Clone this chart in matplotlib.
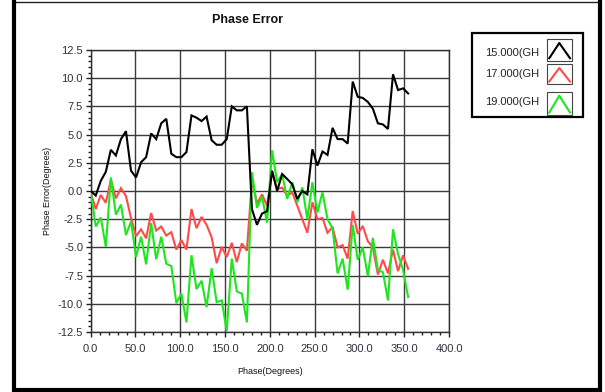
import numpy as np
import matplotlib
matplotlib.use("Agg")
import matplotlib.pyplot as plt
from matplotlib.patches import Rectangle
from matplotlib.lines import Line2D
from matplotlib.ticker import MultipleLocator

plt.rcParams['font.family'] = ['Liberation Sans', 'DejaVu Sans']

# ---- data ----
phase_step = 5.625
n_points = 64
phase_deg = np.arange(n_points) * phase_step

err_15ghz = [0.0, -0.4, 0.9, 1.7, 3.65, 3.15, 4.6, 5.3, 1.8, 1.2,
             2.55, 3.0, 5.1, 4.6, 6.0, 6.4, 3.3, 3.0, 3.0, 3.45,
             6.7, 6.5, 6.2, 6.6, 4.5, 4.1, 4.1, 4.6, 7.5, 7.15,
             7.15, 7.5, -1.6, -3.0, -2.0, -1.8, 1.8, 0.0, 1.5, 1.06,
             0.6, -0.7, 0.0, -0.3, 3.7, 2.25, 3.5, 3.2, 5.6, 4.6,
             4.6, 4.2, 9.7, 8.35, 8.25, 7.9, 7.3, 6.0, 5.9, 5.5,
             10.35, 8.95, 9.1, 8.65]

err_17ghz = [-0.15, -1.6, -0.35, -1.05, 1.0, -0.65, 0.25, -0.45, -2.4, -4.0,
             -3.4, -4.2, -1.95, -3.5, -3.15, -3.95, -3.65, -5.2, -4.35, -5.2,
             -1.6, -3.3, -2.3, -3.0, -4.1, -6.4, -4.95, -5.85, -4.6, -6.3,
             -4.65, -5.3, 1.0, -1.1, -0.3, -1.3, 1.7, 0.17, 0.3, -0.43,
             -0.12, -1.3, -2.5, -3.7, -1.0, -2.5, -2.4, -3.7, -3.2, -5.0,
             -4.8, -6.0, -1.77, -3.8, -3.1, -4.45, -5.0, -7.4, -6.1, -7.3,
             -5.2, -7.1, -5.7, -6.9]

err_19ghz = [0.0, -3.15, -2.35, -4.95, 1.2, -2.1, -1.2, -3.9, -2.7, -5.85,
             -4.05, -6.5, -2.85, -6.05, -4.05, -6.45, -6.65, -9.95, -9.1, -11.65,
             -5.7, -8.7, -7.95, -10.3, -6.85, -9.85, -9.7, -12.4, -6.0, -8.9,
             -9.1, -11.65, 1.66, -1.5, -0.5, -2.8, 3.6, 0.8, 1.5, -0.7,
             0.77, -1.0, 0.32, -2.5, 0.77, -1.9, -0.1, -2.5, -3.3, -7.3,
             -6.0, -8.75, -3.0, -6.1, -5.0, -7.55, -4.15, -7.0, -7.2, -9.7,
             -3.4, -5.6, -7.0, -9.4]

series_labels = ["15.000(GH", "17.000(GH", "19.000(GH"]
series_colors = ["#000000", "#ff4a4a", "#1ee61e"]

x_ticks = np.arange(0, 401, 50)
x_ticklabels = [f"{v:.1f}" for v in x_ticks]
y_ticks = np.arange(-12.5, 12.6, 2.5)
y_ticklabels = [f"{v:.1f}" for v in y_ticks]

# ---- figure ----
W, H = 605, 392
fig = plt.figure(figsize=(W / 100, H / 100), dpi=100)

def fx(x):
    return x / W

def fy(y):
    return 1 - y / H

ax_l, ax_r, ax_t, ax_b = 90.7, 449.0, 50.0, 332.0
ax = fig.add_axes([fx(ax_l), fy(ax_b), (ax_r - ax_l) / W, (ax_b - ax_t) / H])

grid_col = "#3c3c3c"
for xv in x_ticks:
    ax.axvline(xv, color=grid_col, lw=1.0, zorder=1)
for yv in y_ticks:
    ax.axhline(yv, color=grid_col, lw=1.0, zorder=1)

for vals, col, z in zip([err_17ghz, err_19ghz, err_15ghz],
                        [series_colors[1], series_colors[2], series_colors[0]],
                        [3, 4, 5]):
    ax.plot(phase_deg, vals, color=col, lw=1.5, zorder=z, solid_joinstyle='miter')

ax.set_xlim(0, 400)
ax.set_ylim(-12.5, 12.5)
ax.set_xticks(x_ticks)
ax.set_xticklabels(x_ticklabels)
ax.set_yticks(y_ticks)
ax.set_yticklabels(y_ticklabels)
ax.xaxis.set_minor_locator(MultipleLocator(10))
ax.yaxis.set_minor_locator(MultipleLocator(0.5))
tick_col = "#303040"
ax.tick_params(axis='both', which='major', length=3.5, width=1.0, color="#202020",
               labelsize=8, labelcolor=tick_col, pad=2)
ax.tick_params(axis='both', which='minor', length=2.0, width=1.0, color="#202020")
ax.tick_params(axis='x', which='major', pad=5)
for sp in ax.spines.values():
    sp.set_color("#303030")
    sp.set_linewidth(1.0)

# title and axis labels
fig.text(fx(248), fy(20), "Phase Error", ha='center', va='center',
         fontsize=9, fontweight='bold', color='#111111')
fig.text(fx(270), fy(371), "Phase(Degrees)", ha='center', va='center',
         fontsize=6.5, color='#111111')
fig.text(fx(48), fy(191), "Phase Error(Degrees)", ha='center', va='center',
         fontsize=6.5, color='#111111', rotation=90)

# legend (drawn manually to match the instrument-style legend)
leg_l, leg_r, leg_t, leg_b = 471.7, 583.3, 33.3, 117.3
fig.add_artist(Rectangle((fx(leg_l), fy(leg_b)), (leg_r - leg_l) / W, (leg_b - leg_t) / H,
                         transform=fig.transFigure, facecolor='white',
                         edgecolor='black', lw=1.6, zorder=10))
text_y = [53.3, 74.3, 101.7]
box_tb = [(39.0, 60.7), (64.0, 84.0), (91.7, 115.0)]
icon_l, icon_r = 547.3, 571.7
for lab, col, ty, (bt, bb) in zip(series_labels, series_colors, text_y, box_tb):
    fig.text(fx(485), fy(ty), lab, ha='left', va='center', fontsize=8,
             color='#222233', zorder=11)
    fig.add_artist(Rectangle((fx(icon_l), fy(bb)), (icon_r - icon_l) / W, (bb - bt) / H,
                             transform=fig.transFigure, facecolor='white',
                             edgecolor='#444444', lw=0.8, zorder=11))
    xs = [fx(549.3), fx(559.3), fx(570.0)]
    ys = [fy(bb - 2.5), fy(bt + 4.0), fy(bb - 2.5)]
    fig.add_artist(Line2D(xs, ys, color=col, lw=1.5, transform=fig.transFigure, zorder=12))

# outer frame: thin top edge, thick left/right/bottom edges
fr_l, fr_r, fr_t, fr_b = 14, 600, 2, 390
fig.add_artist(Line2D([fx(fr_l), fx(fr_r)], [fy(fr_t), fy(fr_t)], color='#222222',
                      lw=1.0, transform=fig.transFigure, zorder=20))
fig.add_artist(Line2D([fx(fr_l), fx(fr_l), fx(fr_r), fx(fr_r)],
                      [fy(fr_t), fy(fr_b), fy(fr_b), fy(fr_t)], color='black',
                      lw=3.0, transform=fig.transFigure, zorder=20,
                      solid_joinstyle='miter'))

fig.savefig("out.png", dpi=100, facecolor='white')
